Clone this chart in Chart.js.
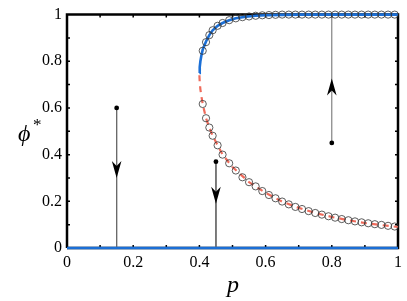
<!DOCTYPE html>
<html>
<head>
<meta charset="utf-8">
<script src="https://cdn.jsdelivr.net/npm/chart.js@4/dist/chart.umd.min.js"></script>
<style>
  html, body { margin: 0; padding: 0; background: #fff; }
  #wrap { width: 407px; height: 301px; }
</style>
</head>
<body>
<div id="wrap"><canvas id="graphCanvas" width="407" height="301"></canvas></div>
<script>
// stable upper branch (solid blue)
const stableP = [0.4, 0.401, 0.403, 0.406, 0.41, 0.415, 0.42, 0.43, 0.44, 0.455, 0.47, 0.49, 0.51, 0.54, 0.57, 0.6, 0.65, 0.7, 0.8, 0.9, 1.0];
const stableY = [0.75, 0.775, 0.8, 0.825, 0.85, 0.868, 0.885, 0.912, 0.933, 0.952, 0.964, 0.976, 0.984, 0.991, 0.995, 0.997, 0.999, 1, 1, 1, 1];

// unstable branch (dashed salmon)
const unstableP = [0.4, 0.401, 0.403, 0.406, 0.41, 0.42, 0.43, 0.44, 0.455, 0.47, 0.5, 0.55, 0.6, 0.65, 0.7, 0.75, 0.8, 0.85, 0.9, 0.95, 1.0];
const unstableY = [0.74, 0.71, 0.68, 0.65, 0.617, 0.556, 0.516, 0.481, 0.44, 0.40, 0.347, 0.282, 0.236, 0.199, 0.172, 0.15, 0.133, 0.119, 0.107, 0.098, 0.09];

// trivial branch phi* = 0
const zeroP = [0, 1];
const zeroY = [0, 0];

// simulation markers
const markerP = [0.41, 0.42, 0.43, 0.44, 0.455, 0.47, 0.49, 0.51, 0.53, 0.55, 0.57, 0.59, 0.61, 0.63, 0.65, 0.67, 0.69, 0.71, 0.73, 0.75, 0.77, 0.79, 0.81, 0.83, 0.85, 0.87, 0.89, 0.91, 0.93, 0.95, 0.97, 0.99];
const markerUpper = [0.845, 0.882, 0.912, 0.933, 0.952, 0.964, 0.976, 0.984, 0.989, 0.992, 0.995, 0.997, 0.998, 0.999, 1, 1, 1, 1, 1, 1, 1, 1, 1, 1, 1, 1, 1, 1, 1, 1, 1, 1];
const markerLower = [0.617, 0.556, 0.516, 0.481, 0.44, 0.40, 0.363, 0.332, 0.303, 0.282, 0.264, 0.244, 0.227, 0.213, 0.199, 0.187, 0.176, 0.167, 0.158, 0.150, 0.143, 0.136, 0.130, 0.124, 0.119, 0.114, 0.110, 0.106, 0.102, 0.099, 0.095, 0.092];

// flow arrows: start dot, end, arrow-tip position
const arrowP = [0.15, 0.45, 0.8];
const arrowFrom = [0.6, 0.37, 0.45];
const arrowTo = [0, 0, 1];
const arrowTip = [0.30, 0.19, 0.726];

const tickValues = [0, 0.2, 0.4, 0.6, 0.8, 1];
const minorTicks = [0.1, 0.2, 0.3, 0.4, 0.5, 0.6, 0.7, 0.8, 0.9];

const BLUE = '#1b6fd6';
const SALMON = '#ef6b5b';
const SERIF = '"Liberation Serif", "DejaVu Serif", serif';

const pts = (xs, ys) => xs.map((x, i) => ({ x: x, y: ys[i] }));

const arrowLineSets = arrowP.map((p, i) => ({
    data: [{ x: p, y: arrowFrom[i] }, { x: p, y: arrowTo[i] }],
    showLine: true,
    borderColor: '#6a6a6a',
    borderWidth: 1,
    pointRadius: 0,
    order: 5
}));

const framePlugin = {
    id: 'frame',
    beforeDatasetsDraw(chart) {
        const { ctx, chartArea: a, scales } = chart;
        ctx.save();
        ctx.strokeStyle = '#000';
        ctx.lineWidth = 2.5;
        ctx.beginPath();
        ctx.moveTo(a.left, a.bottom);
        ctx.lineTo(a.left, a.top);
        ctx.lineTo(a.right, a.top);
        ctx.lineTo(a.right, a.bottom);
        ctx.lineTo(a.left, a.bottom);
        ctx.stroke();
        // inward minor ticks
        ctx.lineWidth = 1.5;
        ctx.beginPath();
        minorTicks.forEach(v => {
            const x = scales.x.getPixelForValue(v);
            const y = scales.y.getPixelForValue(v);
            ctx.moveTo(x, a.bottom); ctx.lineTo(x, a.bottom - 3);
            ctx.moveTo(x, a.top); ctx.lineTo(x, a.top + 3);
            ctx.moveTo(a.left, y); ctx.lineTo(a.left + 3, y);
            ctx.moveTo(a.right, y); ctx.lineTo(a.right - 3, y);
        });
        ctx.stroke();
        ctx.restore();
    },
    afterDatasetsDraw(chart) {
        const { ctx, scales } = chart;
        ctx.save();
        ctx.fillStyle = '#000';
        arrowP.forEach((p, i) => {
            const x = scales.x.getPixelForValue(p);
            const y = scales.y.getPixelForValue(arrowTip[i]);
            const dir = arrowTo[i] < arrowFrom[i] ? 1 : -1;
            ctx.beginPath();
            ctx.moveTo(x, y);
            ctx.lineTo(x - 4.8, y - dir * 17);
            ctx.lineTo(x, y - dir * 12);
            ctx.lineTo(x + 4.8, y - dir * 17);
            ctx.closePath();
            ctx.fill();
        });
        // axis titles
        ctx.fillStyle = '#000';
        ctx.textBaseline = 'alphabetic';
        ctx.textAlign = 'left';
        ctx.font = 'italic 24px ' + SERIF;
        ctx.fillText('\u03d5', 18, 141);
        ctx.font = '17px ' + SERIF;
        ctx.fillText('*', 33, 130);
        ctx.font = 'italic 24px ' + SERIF;
        ctx.textAlign = 'center';
        ctx.fillText('p', 233, 292);
        ctx.restore();
    }
};

const fmt = v => (Math.abs(v) < 1e-9 ? '0' : Math.abs(v - 1) < 1e-9 ? '1' : v.toFixed(1));

const ctx = document.getElementById('graphCanvas').getContext('2d');
new Chart(ctx, {
    type: 'scatter',
    data: {
        datasets: [
            ...arrowLineSets,
            {
                data: pts(arrowP, arrowFrom),
                pointRadius: 2.4,
                pointBackgroundColor: '#000',
                pointBorderWidth: 0,
                order: 4
            },
            {
                data: pts(unstableP, unstableY),
                showLine: true,
                borderColor: SALMON,
                borderWidth: 2.2,
                borderDash: [6, 5],
                pointRadius: 0,
                order: 3
            },
            {
                data: pts(stableP, stableY),
                showLine: true,
                borderColor: BLUE,
                borderWidth: 2.6,
                pointRadius: 0,
                clip: false,
                order: 2
            },
            {
                data: pts(zeroP, zeroY),
                showLine: true,
                borderColor: BLUE,
                borderWidth: 2.6,
                pointRadius: 0,
                clip: false,
                order: 2
            },
            {
                data: pts(markerP, markerUpper).concat(pts(markerP, markerLower)),
                pointRadius: 3.6,
                pointBackgroundColor: 'rgba(255,255,255,0)',
                pointBorderColor: '#333',
                pointBorderWidth: 0.8,
                clip: false,
                order: 1
            }
        ]
    },
    options: {
        responsive: false,
        animation: false,
        events: [],
        layout: { padding: { left: 0, right: 9, top: 13, bottom: 0 } },
        scales: {
            x: {
                type: 'linear',
                min: 0,
                max: 1,
                afterFit: s => { s.height = 53; },
                afterBuildTicks: s => { s.ticks = tickValues.map(v => ({ value: v })); },
                grid: { display: false, drawTicks: false },
                border: { display: false },
                ticks: {
                    padding: 5,
                    color: '#000',
                    font: { family: SERIF, size: 16 },
                    callback: fmt
                }
            },
            y: {
                type: 'linear',
                min: 0,
                max: 1,
                afterFit: s => { s.width = 67; },
                afterBuildTicks: s => { s.ticks = tickValues.map(v => ({ value: v })); },
                grid: { display: false, drawTicks: false },
                border: { display: false },
                ticks: {
                    padding: 5,
                    color: '#000',
                    font: { family: SERIF, size: 16 },
                    callback: fmt
                }
            }
        },
        plugins: {
            legend: { display: false },
            tooltip: { enabled: false }
        }
    },
    plugins: [framePlugin]
});
</script>
</body>
</html>
